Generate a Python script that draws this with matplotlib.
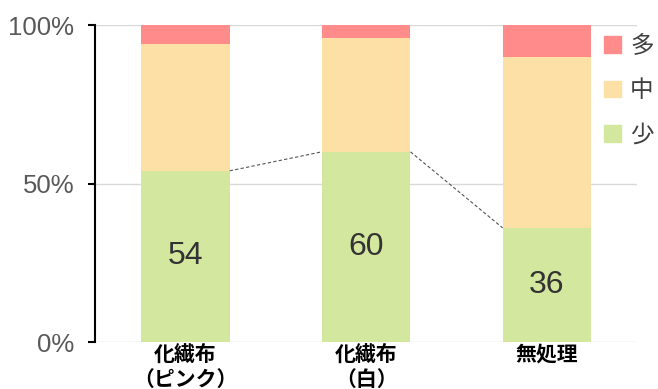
import numpy as np
import matplotlib
matplotlib.use("Agg")
import matplotlib.pyplot as plt
from matplotlib.patches import Patch

plt.rcParams['font.family'] = ['Liberation Sans', 'Noto Sans CJK JP', 'DejaVu Sans']

# stacked shares (%) per treatment
categories = ["化繊布\n（ピンク）", "化繊布\n（白）", "無処理"]
low = [54, 60, 36]     # 少
mid = [40, 36, 54]     # 中
high = [6, 4, 10]      # 多
ticks = [0, 50, 100]
tick_labels = ["0%", "50%", "100%"]

c_low = "#d4e79e"
c_mid = "#fde0a6"
c_high = "#ff8b8b"

fig = plt.figure(figsize=(6.58, 3.89), dpi=100)
ax = fig.add_axes([0.1444, 0.1208, 0.9686 - 0.1444, 0.9357 - 0.1208])

x = np.arange(len(categories))
w = 0.49
low = np.array(low)
mid = np.array(mid)
high = np.array(high)
ax.bar(x, low, w, color=c_low, zorder=2)
ax.bar(x, mid, w, bottom=low, color=c_mid, zorder=2)
ax.bar(x, high, w, bottom=low + mid, color=c_high, zorder=2)

# series lines between the green tops
for i in range(len(x) - 1):
    ax.plot([x[i] + w / 2, x[i + 1] - w / 2], [low[i], low[i + 1]],
            ls=(0, (3, 2)), lw=0.8, color="#555555", zorder=3)

for i, v in enumerate(low):
    ax.text(x[i], v / 2, str(v), ha="center", va="center",
            fontsize=23, color="#333333", zorder=4)

ax.set_xlim(-0.5, 2.5)
ax.set_ylim(0, 100)
ax.set_yticks(ticks)
ax.set_yticklabels(tick_labels, fontsize=18.5, color="#595959")
ax.set_xticks(x)
ax.set_xticklabels(categories, fontsize=15, fontweight="bold",
                   family=['Noto Sans CJK JP'], linespacing=1.25)
ax.tick_params(axis="x", length=0, pad=1)
ax.tick_params(axis="y", length=5, width=1.5, color="black", pad=10)

for v in ticks:
    ax.axhline(v, color="#d9d9d9", lw=1, zorder=1)

for s in ["top", "right", "bottom"]:
    ax.spines[s].set_visible(False)
ax.spines["left"].set_linewidth(1.5)
ax.spines["left"].set_color("black")

handles = [Patch(color=c_high), Patch(color=c_mid), Patch(color=c_low)]
fig.legend(handles, ["多", "中", "少"], loc="upper left",
           bbox_to_anchor=(0.918, 0.91), frameon=False,
           borderpad=0, borderaxespad=0,
           prop={"family": ["Noto Sans CJK JP"], "size": 17},
           handlelength=0.7, handleheight=0.7, handletextpad=0.4,
           labelspacing=0.9, labelcolor="#404040")

fig.savefig("out.png", dpi=100)
